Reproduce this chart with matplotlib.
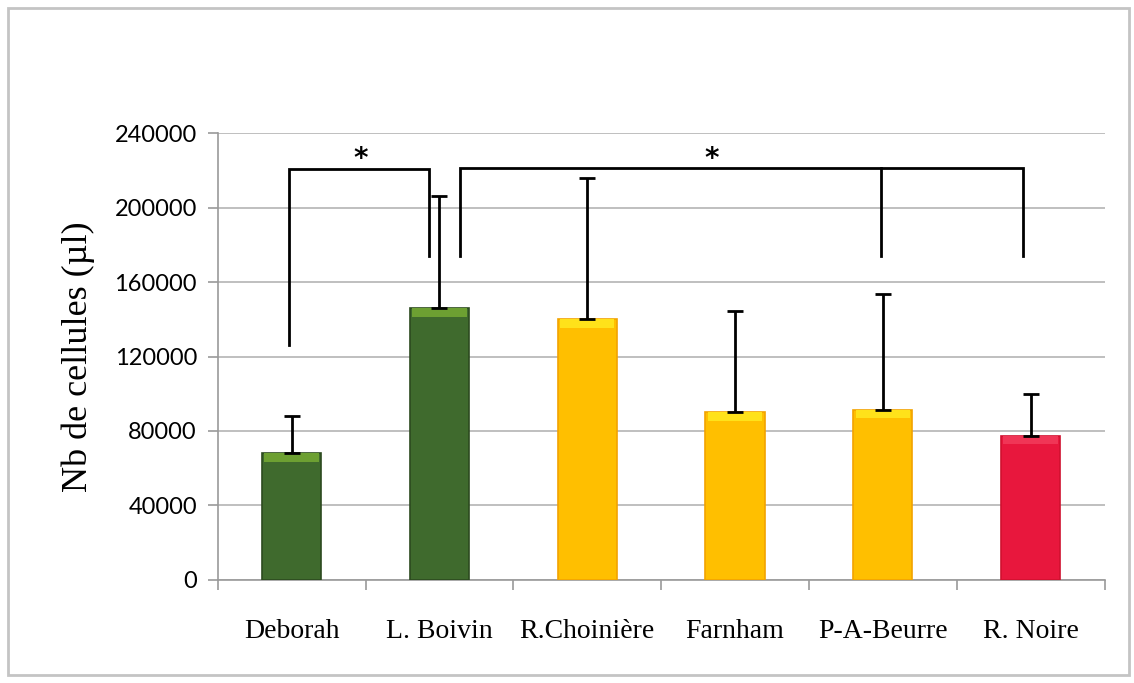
import matplotlib
matplotlib.use("Agg")
import matplotlib.pyplot as plt
from matplotlib.patches import Rectangle
import numpy as np

# cell counts per site, upper error bars only
sites = ["Deborah", "L. Boivin", "R.Choinière", "Farnham", "P-A-Beurre", "R. Noire"]
means = [68000, 146000, 140000, 90000, 91500, 77500]
errors = [20000, 60000, 76000, 54500, 62000, 22500]

face = ["#3f6a2d", "#3f6a2d", "#ffbf00", "#ffbf00", "#ffbf00", "#e8173d"]
edge = ["#2c4a1f", "#2c4a1f", "#f2a300", "#f2a300", "#f2a300", "#d0102f"]
shine = ["#6da032", "#6da032", "#ffe21a", "#ffe21a", "#ffe21a", "#f03556"]

y_ticks = [0, 40000, 80000, 120000, 160000, 200000, 240000]

fig = plt.figure(figsize=(11.34, 6.83), dpi=100)
ax = fig.add_axes([0.192, 0.151, 0.782, 0.654])

x = np.arange(len(sites))
width = 0.4

ax.bar(x, means, width=width, color=face, edgecolor=edge, linewidth=1.2, zorder=3)
# lighter bevel at the top of each bar
bevel = 4500
ax.bar(x, [bevel] * len(x), bottom=[m - bevel for m in means], width=width * 0.92,
       color=shine, linewidth=0, zorder=4)
ax.errorbar(x, means, yerr=[[0] * len(x), errors], fmt="none", ecolor="black",
            elinewidth=2, capsize=6, capthick=2, zorder=5)

# significance brackets
lw = 2
ax.plot([-0.02, -0.02, 0.93, 0.93], [126000, 221000, 221000, 174000],
        color="black", lw=lw, zorder=6, solid_joinstyle="miter")
ax.plot([1.14, 1.14, 4.95, 4.95], [174000, 221500, 221500, 174000],
        color="black", lw=lw, zorder=6, solid_joinstyle="miter")
ax.plot([3.99, 3.99], [221500, 174000], color="black", lw=lw, zorder=6)
ax.text(0.47, 226000, "*", ha="center", va="center", fontsize=20,
        family="DejaVu Sans", fontweight="bold")
ax.text(2.84, 226000, "*", ha="center", va="center", fontsize=20,
        family="DejaVu Sans", fontweight="bold")

ax.set_ylim(0, 240000)
ax.set_xlim(-0.5, len(sites) - 0.5)
ax.set_yticks(y_ticks)
ax.set_yticklabels([str(v) for v in y_ticks], fontsize=17, family="Lato")
ax.yaxis.grid(True, color="#b4b4b4", linewidth=1.2, zorder=0)
ax.set_axisbelow(True)

ax.set_xticks(x)
ax.set_xticklabels(sites, fontsize=20, family="Liberation Serif")
ax.set_xticks(np.arange(len(sites) + 1) - 0.5, minor=True)
ax.tick_params(axis="x", which="major", length=0, pad=28)
ax.tick_params(axis="x", which="minor", length=7, color="#9a9a9a", width=1.2)
ax.tick_params(axis="y", length=7, color="#9a9a9a", width=1.2, pad=8)

ax.set_ylabel("Nb de cellules (µl)", fontsize=26, family="Liberation Serif", labelpad=14)

for s in ["top", "right"]:
    ax.spines[s].set_visible(False)
for s in ["left", "bottom"]:
    ax.spines[s].set_color("#9a9a9a")
    ax.spines[s].set_linewidth(1.2)

# chart area frame
fig.patches.append(Rectangle((0.007, 0.012), 0.989, 0.976, transform=fig.transFigure,
                             fill=False, edgecolor="#c4c4c4", linewidth=2))

fig.savefig("out.png", dpi=100)
